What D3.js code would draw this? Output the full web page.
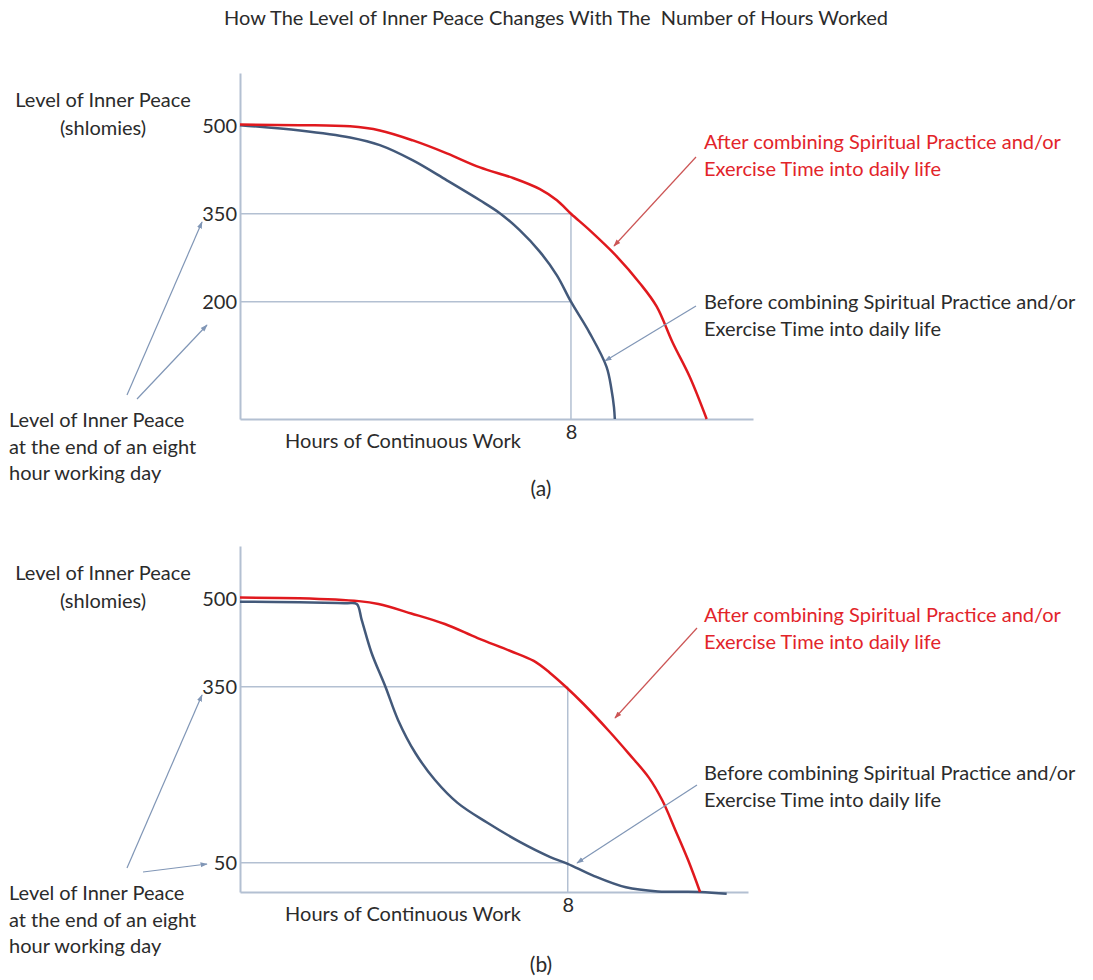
<!DOCTYPE html>
<html>
<head>
<meta charset="utf-8">
<script src="https://cdn.jsdelivr.net/npm/d3@7"></script>
<style>
  html, body { margin: 0; padding: 0; background: #ffffff; }
  svg { display: block; font-family: Lato, "Open Sans", sans-serif; }
</style>
</head>
<body>
<svg id="chart" width="1093" height="980"></svg>
<script>
// ---------- data ----------
const chartTitle = "How The Level of Inner Peace Changes With The  Number of Hours Worked";
const yTicksA = [500, 350, 200];
const yTicksB = [500, 350, 50];
const xTicks = [8];

// Panel (a)
const hoursA_after  = [0, 1.45, 2.66, 3.38, 4.18, 5.0, 5.8, 6.6, 7.25, 7.66, 8.0, 8.45, 9.11, 9.66, 10.07, 10.46, 10.87, 11.28];
const peaceA_after  = [502, 501, 499, 492, 475, 453, 429, 411, 392, 373, 350, 322, 277, 232, 192, 130, 72, 0];
const hoursA_before = [0, 1.45, 2.66, 3.38, 4.18, 5.0, 5.8, 6.28, 6.76, 7.25, 7.66, 8.0, 8.45, 8.86, 8.98, 9.04, 9.06];
const peaceA_before = [501, 492, 480, 467, 441, 407, 373, 351, 322, 285, 245, 200, 147, 89, 50, 20, 0];
const guideA = [350, 200];

// Panel (b)
const hoursB_after  = [0, 1.45, 2.9, 3.38, 4.18, 5.0, 5.8, 6.6, 7.17, 7.56, 7.95, 8.38, 9.0, 9.49, 9.98, 10.31, 10.63, 10.94, 11.23];
const peaceB_after  = [502, 501, 496, 491, 475, 457, 433, 411, 394, 374, 350, 321, 275, 236, 195, 156, 105, 54, 0];
const hoursB_before = [0, 1.45, 2.6, 2.85, 2.97, 3.21, 3.55, 3.86, 4.28, 4.76, 5.31, 6.04, 6.84, 7.56, 8.0, 8.62, 9.42, 10.2, 11.23, 11.88];
const peaceB_before = [495, 494, 492.5, 491, 464, 408, 350, 293, 237, 191, 152, 118, 85, 60, 48, 28, 8, 1, 0, -3];
const guideB = [350, 50];

const yAxisTitle = ["Level of Inner Peace", "(shlomies)"];
const xAxisTitle = "Hours of Continuous Work";
const noteLeft = ["Level of Inner Peace", "at the end of an eight", "hour working day"];
const noteAfter = ["After combining Spiritual Practice and/or", "Exercise Time into daily life"];
const noteBefore = ["Before combining Spiritual Practice and/or", "Exercise Time into daily life"];

// ---------- styles ----------
const RED = "#e0191e";
const BLUE = "#43597a";
const GRID = "#b3c0d2";
const RED_TEXT = "#e2242a";
const TEXT = "#2b2b2b";
const ARROW_BLUE = "#8096b6";
const ARROW_RED = "#cc5555";
const FS = 20;

const svg = d3.select("#chart");

svg.append("text")
  .attr("x", 556).attr("y", 25)
  .attr("text-anchor", "middle")
  .attr("font-size", 20).attr("fill", TEXT)
  .attr("xml:space", "preserve")
  .style("white-space", "pre")
  .text(chartTitle);

const defs = svg.append("defs");
function marker(id, color) {
  defs.append("marker")
    .attr("id", id).attr("viewBox", "0 0 10 10")
    .attr("refX", 9).attr("refY", 5)
    .attr("markerWidth", 6).attr("markerHeight", 6)
    .attr("orient", "auto-start-reverse")
    .append("path").attr("d", "M0,1.5 L10,5 L0,8.5 Z").attr("fill", color);
}
marker("arrB", ARROW_BLUE);
marker("arrR", ARROW_RED);

function drawPanel(cfg) {
  const x = d3.scaleLinear().domain([0, 12.4]).range([240, cfg.xEnd]);
  const y = d3.scaleLinear().domain([0, 590]).range([cfg.base, cfg.base - 346]);
  const g = svg.append("g");

  // guide lines
  cfg.guides.forEach(v => {
    g.append("line")
      .attr("x1", x(0)).attr("x2", x(8))
      .attr("y1", y(v)).attr("y2", y(v))
      .attr("stroke", GRID).attr("stroke-width", 1.5);
  });
  g.append("line")
    .attr("x1", x(8)).attr("x2", x(8))
    .attr("y1", y(0)).attr("y2", y(350))
    .attr("stroke", GRID).attr("stroke-width", 1.5);

  // axes
  const ya = g.append("g").attr("transform", `translate(${x(0)},0)`)
    .call(d3.axisLeft(y).tickValues(cfg.yTicks).tickSize(0).tickPadding(3).tickFormat(d3.format("d")));
  const xa = g.append("g").attr("transform", `translate(0,${y(0)})`)
    .call(d3.axisBottom(x).tickValues(xTicks).tickSize(0).tickPadding(6).tickFormat(d3.format("d")));
  [ya, xa].forEach(a => {
    a.select(".domain").attr("stroke", GRID).attr("stroke-width", 2);
    a.selectAll("text").attr("font-size", FS).attr("fill", TEXT)
      .attr("font-family", "Lato, 'Open Sans', sans-serif");
  });

  // curves
  const line = d3.line().x(d => x(d[0])).y(d => y(d[1])).curve(d3.curveCatmullRom.alpha(0.5));
  const before = d3.zip(cfg.hb, cfg.pb);
  const after = d3.zip(cfg.ha, cfg.pa);
  g.append("path").datum(before).attr("d", line)
    .attr("fill", "none").attr("stroke", BLUE).attr("stroke-width", 2.5);
  g.append("path").datum(after).attr("d", line)
    .attr("fill", "none").attr("stroke", RED).attr("stroke-width", 2.5);

  // y-axis title
  const yt = g.append("text").attr("text-anchor", "middle")
    .attr("font-size", FS).attr("fill", TEXT);
  yAxisTitle.forEach((t, i) => yt.append("tspan")
    .attr("x", 103).attr("y", cfg.titleY + i * 28).text(t));

  // x-axis title
  g.append("text").attr("x", 403).attr("y", y(0) + 29)
    .attr("text-anchor", "middle").attr("font-size", FS).attr("fill", TEXT)
    .text(xAxisTitle);

  // left note
  const ln = g.append("text").attr("font-size", FS).attr("fill", TEXT);
  noteLeft.forEach((t, i) => ln.append("tspan")
    .attr("x", 9).attr("y", cfg.noteY + i * 26.5).text(t));

  // left arrows
  cfg.leftArrows.forEach(a => {
    g.append("line").attr("x1", a[0]).attr("y1", a[1]).attr("x2", a[2]).attr("y2", a[3])
      .attr("stroke", ARROW_BLUE).attr("stroke-width", 1.2).attr("marker-end", "url(#arrB)");
  });

  // right notes
  const na = g.append("text").attr("font-size", FS).attr("fill", RED_TEXT);
  noteAfter.forEach((t, i) => na.append("tspan")
    .attr("x", 704).attr("y", cfg.afterY + i * 26.5).text(t));
  g.append("line").attr("x1", cfg.redArrow[0]).attr("y1", cfg.redArrow[1])
    .attr("x2", cfg.redArrow[2]).attr("y2", cfg.redArrow[3])
    .attr("stroke", ARROW_RED).attr("stroke-width", 1.2).attr("marker-end", "url(#arrR)");

  const nb = g.append("text").attr("font-size", FS).attr("fill", TEXT);
  noteBefore.forEach((t, i) => nb.append("tspan")
    .attr("x", 704).attr("y", cfg.beforeY + i * 26.5).text(t));
  g.append("line").attr("x1", cfg.blueArrow[0]).attr("y1", cfg.blueArrow[1])
    .attr("x2", cfg.blueArrow[2]).attr("y2", cfg.blueArrow[3])
    .attr("stroke", ARROW_BLUE).attr("stroke-width", 1.2).attr("marker-end", "url(#arrB)");

  // panel label
  g.append("text").attr("x", 541).attr("y", cfg.labelY)
    .attr("text-anchor", "middle").attr("font-size", 21).attr("fill", TEXT)
    .text(cfg.label);
}

drawPanel({
  base: 419, xEnd: 753, titleY: 107,
  yTicks: yTicksA, guides: guideA,
  ha: hoursA_after, pa: peaceA_after, hb: hoursA_before, pb: peaceA_before,
  noteY: 427,
  leftArrows: [[127, 395, 202, 222], [137, 399, 207, 325]],
  afterY: 149, redArrow: [696, 157, 614, 246],
  beforeY: 309, blueArrow: [696, 306, 605, 361],
  labelY: 496, label: "(a)"
});

drawPanel({
  base: 892, xEnd: 748, titleY: 580,
  yTicks: yTicksB, guides: guideB,
  ha: hoursB_after, pa: peaceB_after, hb: hoursB_before, pb: peaceB_before,
  noteY: 900,
  leftArrows: [[127, 868, 202, 695], [143, 872, 207, 864]],
  afterY: 622, redArrow: [697, 628, 615, 718],
  beforeY: 780, blueArrow: [697, 785, 577, 863],
  labelY: 972, label: "(b)"
});
</script>
</body>
</html>
